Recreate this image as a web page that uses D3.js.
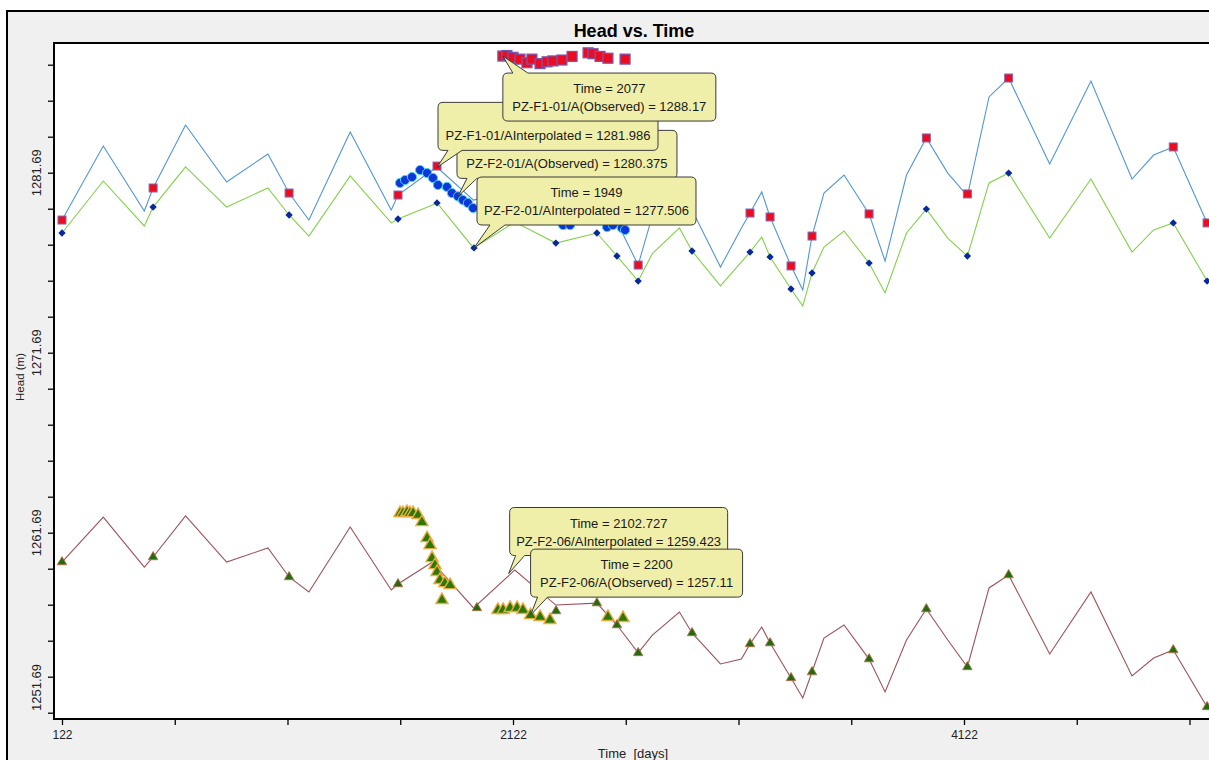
<!DOCTYPE html>
<html><head><meta charset="utf-8">
<script src="https://cdn.jsdelivr.net/npm/d3@7"></script>
<style>
html,body{margin:0;padding:0;background:#fff;}
svg{display:block;font-family:Arial,"Liberation Sans",sans-serif;}
</style></head><body>
<svg id="chart" width="1209" height="760"></svg>
<script>
// ---------------- DATA ----------------
const chartTitle = "Head vs. Time";
const xAxisTitle = "Time  [days]";
const yAxisTitle = "Head (m)";

const xTickValues = [122, 622, 1122, 1622, 2122, 2622, 3122, 3622, 4122, 4622, 5122];
const xTickLabels = ["122", "", "", "", "2122", "", "", "", "4122", "", ""];
const yTickValues = [1251.69, 1253.69, 1255.69, 1257.69, 1259.69, 1261.69, 1263.69, 1265.69, 1267.69,
  1269.69, 1271.69, 1273.69, 1275.69, 1277.69, 1279.69, 1281.69, 1283.69, 1285.69, 1287.69];
const yTickLabeled = [1251.69, 1261.69, 1271.69, 1281.69];

// interpolated (model) series share the time steps
const lineTimes = [122, 305, 487, 526, 670, 852, 1035, 1129, 1217, 1400, 1582, 1612, 1765, 1785, 1947,
  2130, 2312, 2494, 2583, 2677, 2740, 2860, 2916, 3042, 3135, 3173, 3225, 3262, 3355, 3407, 3448, 3501, 3590,
  3701, 3772, 3867, 3955, 4050, 4137, 4233, 4320, 4502, 4685, 4867, 4963, 5050, 5200];
const f1Interp = [1279.06, 1283.17, 1279.56, 1280.84, 1284.34, 1281.17, 1282.73, 1280.56, 1279.06, 1283.95,
  1279.62, 1280.45, 1281.84, 1281.99, 1280.17, 1280.73, 1279.06, 1279.34, 1278.95, 1276.56, 1279.30, 1280.73, 1279.62,
  1276.45, 1278.62, 1279.45, 1280.62, 1279.23, 1276.51, 1275.17, 1278.17, 1280.56, 1281.56, 1279.40, 1276.78,
  1281.56, 1283.62, 1281.67, 1280.40, 1285.90, 1286.95, 1282.17, 1286.78, 1281.34, 1282.67, 1283.12, 1278.90];
const f2Interp = [1278.34, 1281.23, 1278.73, 1279.78, 1282.01, 1279.78, 1280.84, 1279.34, 1278.17, 1281.51,
  1278.90, 1279.12, 1279.90, 1280.01, 1277.51, 1278.95, 1277.78, 1278.34, 1277.06, 1275.67, 1277.20, 1278.62, 1277.34,
  1275.40, 1276.73, 1277.28, 1278.12, 1277.01, 1275.23, 1274.28, 1276.12, 1277.56, 1278.45, 1276.67, 1275.01,
  1278.34, 1279.67, 1278.06, 1277.06, 1281.12, 1281.67, 1278.06, 1281.34, 1277.28, 1278.51, 1278.90, 1275.67];
const f206Interp = [1260.06, 1262.56, 1259.78, 1260.34, 1262.62, 1260.06, 1260.84, 1259.23, 1258.40, 1262.01,
  1258.51, 1258.84, 1260.06, 1259.78, 1257.51, 1259.62, 1257.67, 1257.78, 1256.56, 1255.01, 1256.00, 1257.28, 1256.12,
  1254.40, 1254.67, 1255.51, 1256.45, 1255.56, 1253.62, 1252.51, 1253.95, 1255.84, 1256.56, 1254.67, 1252.84,
  1255.73, 1257.45, 1255.73, 1254.23, 1258.62, 1259.34, 1254.95, 1258.40, 1253.73, 1254.73, 1255.17, 1252.01];

// PZ-F1-01/A observed
const f1ObsT = [122, 526, 1129, 1612, 1785, 2677, 3173, 3262, 3355, 3448, 3701, 3955, 4137, 4320, 5050, 5200];
const f1ObsH = [1279.06, 1280.84, 1280.56, 1280.45, 1282.06, 1276.56, 1279.45, 1279.23, 1276.51, 1278.17,
  1279.40, 1283.62, 1280.51, 1286.95, 1283.12, 1278.90];
const f1ObsDenseT = [2077, 2095, 2122, 2153, 2184, 2206, 2242, 2273, 2299, 2339, 2384, 2455, 2477, 2508, 2543, 2619];
const f1ObsDenseH = [1288.17, 1288.20, 1288.10, 1288.00, 1287.80, 1288.00, 1287.75, 1287.85, 1287.90, 1287.95,
  1288.15, 1288.35, 1288.30, 1288.15, 1288.05, 1288.00];

// PZ-F2-01/A observed
const f2ObsT = [122, 526, 1129, 1612, 1785, 1949, 2312, 2494, 2583, 2677, 2916, 3173, 3262, 3355, 3448, 3701,
  3955, 4137, 4320, 5050, 5200];
const f2ObsH = [1278.34, 1279.78, 1279.34, 1279.12, 1280.01, 1277.51, 1277.78, 1278.34, 1277.06, 1275.67,
  1277.34, 1277.28, 1277.01, 1275.23, 1276.12, 1276.67, 1279.67, 1277.06, 1281.67, 1278.90, 1275.67];
const f2ObsDenseT = [1621, 1643, 1674, 1710, 1741, 1767, 1789, 1829, 1851, 1878, 1900, 1922, 1945,
  2344, 2375, 2539, 2565, 2605, 2619];
const f2ObsDenseH = [1281.12, 1281.28, 1281.45, 1281.84, 1281.67, 1281.40, 1281.01, 1280.90, 1280.56, 1280.375,
  1280.17, 1280.01, 1279.73, 1278.78, 1278.78, 1278.67, 1278.78, 1278.62, 1278.51];

// PZ-F2-06/A observed
const f206ObsT = [122, 526, 1129, 1612, 1962, 2313, 2494, 2583, 2677, 2916, 3173, 3262, 3355, 3448, 3701,
  3955, 4137, 4320, 5050, 5200];
const f206ObsH = [1260.06, 1260.34, 1259.23, 1258.84, 1257.51, 1257.34, 1257.78, 1256.56, 1255.01, 1256.12,
  1255.51, 1255.56, 1253.62, 1253.95, 1254.67, 1257.45, 1254.23, 1259.34, 1255.17, 1252.01];
const f206ObsDenseT = [1621, 1634, 1652, 1665, 1679, 1701, 1718, 1741, 1754, 1763, 1776, 1785, 1798, 1820, 1843,
  1807, 2055, 2078, 2109, 2140, 2166, 2200, 2242, 2286, 2543, 2610];
const f206ObsDenseH = [1262.78, 1262.78, 1262.84, 1262.78, 1262.78, 1262.67, 1262.28, 1261.39, 1261.00, 1260.28,
  1259.89, 1259.51, 1259.06, 1258.89, 1258.78, 1257.95, 1257.40, 1257.40, 1257.51, 1257.51, 1257.40, 1257.11,
  1257.01, 1256.84, 1257.01, 1256.95];

// hover tool-tips (time, value, text lines)
const tipTimes = [1878, 1785, 2077, 1949, 2102.727, 2200];
const tipValues = [1280.375, 1281.986, 1288.17, 1277.506, 1259.423, 1257.11];
const tipLines = [
  ["", "PZ-F2-01/A(Observed) = 1280.375"],
  ["", "PZ-F1-01/AInterpolated = 1281.986"],
  ["Time = 2077", "PZ-F1-01/A(Observed) = 1288.17"],
  ["Time = 1949", "PZ-F2-01/AInterpolated = 1277.506"],
  ["Time = 2102.727", "PZ-F2-06/AInterpolated = 1259.423"],
  ["Time = 2200", "PZ-F2-06/A(Observed) = 1257.11"]
];

// ---------------- LAYOUT ----------------
const W = 1209, H = 760;
const plot = {left: 54, top: 43, right: 1214, bottom: 719};
// tooltip box placement relative to its anchor: [dx, dy, width, height, tailX0, tailX1, tailSide]
const tipLayout = [
  [-1, -66, 220, 48, 10, 20, "bottom"],
  [1, -65, 220, 48, 10, 24, "bottom"],
  [0, 17, 213, 48, 10, 25, "top"],
  [3, -71, 219, 48, 13, 28, "bottom"],
  [1, -66, 218, 48, 6, 15, "bottom"],
  [0, -66, 212, 48, 7, 17, "bottom"]
];

const svg = d3.select("#chart");

// outer panel
svg.append("rect").attr("x", 0).attr("y", 0).attr("width", W).attr("height", H).attr("fill", "#ffffff");
svg.append("rect").attr("x", 7).attr("y", 11).attr("width", 1230).attr("height", 800)
  .attr("fill", "#f0f0f0").attr("stroke", "#000").attr("stroke-width", 2);

// plot area
svg.append("rect").attr("x", plot.left).attr("y", plot.top)
  .attr("width", plot.right - plot.left).attr("height", plot.bottom - plot.top)
  .attr("fill", "#ffffff");

const x = d3.scaleLinear().domain([122, 4122]).range([62, 964]);
const y = d3.scaleLinear().domain([1251.69, 1281.69]).range([712.7, 172.7]);

svg.append("clipPath").attr("id", "clip").append("rect")
  .attr("x", plot.left).attr("y", plot.top)
  .attr("width", plot.right - plot.left).attr("height", plot.bottom - plot.top);

const g = svg.append("g").attr("clip-path", "url(#clip)");

// lines
function drawLine(ts, hs, color) {
  const pts = ts.map((t, i) => [t, hs[i]]);
  g.append("path").datum(pts)
    .attr("fill", "none").attr("stroke", color).attr("stroke-width", 1.1)
    .attr("d", d3.line().x(d => x(d[0])).y(d => y(d[1])));
}
drawLine(lineTimes, f1Interp, "#5196d2");
drawLine(lineTimes, f2Interp, "#82d04a");
drawLine(lineTimes, f206Interp, "#9c525a");

// markers
function pairs(ts, hs) { return ts.map((t, i) => [t, hs[i]]); }

// F2-06 observed: triangles
g.append("g").selectAll("path").data(pairs(f206ObsDenseT, f206ObsDenseH)).join("path")
  .attr("transform", d => `translate(${x(d[0])},${y(d[1])})`)
  .attr("d", d3.symbol().type(d3.symbolTriangle).size(64)())
  .attr("fill", "#287a0c").attr("stroke", "#eeaa3c").attr("stroke-width", 1.4);
g.append("g").selectAll("path").data(pairs(f206ObsT, f206ObsH)).join("path")
  .attr("transform", d => `translate(${x(d[0])},${y(d[1])})`)
  .attr("d", d3.symbol().type(d3.symbolTriangle).size(38)())
  .attr("fill", "#236b0c").attr("stroke", "#a8744a").attr("stroke-width", 1);

// F2-01 observed dense: blue circles with cyan rim
g.append("g").selectAll("circle").data(pairs(f2ObsDenseT, f2ObsDenseH)).join("circle")
  .attr("cx", d => x(d[0])).attr("cy", d => y(d[1])).attr("r", 4.6)
  .attr("fill", "#0f36d8").attr("stroke", "#45d2f0").attr("stroke-width", 1);
// F2-01 observed sparse: small diamonds
g.append("g").selectAll("rect").data(pairs(f2ObsT, f2ObsH)).join("rect")
  .attr("x", -2.6).attr("y", -2.6).attr("width", 5.2).attr("height", 5.2)
  .attr("transform", d => `translate(${x(d[0])},${y(d[1])}) rotate(45)`)
  .attr("fill", "#07299a");

// F1-01 observed: red squares
g.append("g").selectAll("rect").data(pairs(f1ObsT, f1ObsH)).join("rect")
  .attr("x", d => x(d[0]) - 4).attr("y", d => y(d[1]) - 4).attr("width", 8).attr("height", 8)
  .attr("fill", "#ec0c22").attr("stroke", "#8468b0").attr("stroke-width", 1);
g.append("g").selectAll("rect").data(pairs(f1ObsDenseT, f1ObsDenseH)).join("rect")
  .attr("x", d => x(d[0]) - 5).attr("y", d => y(d[1]) - 5).attr("width", 10).attr("height", 10)
  .attr("fill", "#ec0c22").attr("stroke", "#7a58b0").attr("stroke-width", 1.2);

// plot border
svg.append("rect").attr("x", plot.left).attr("y", plot.top)
  .attr("width", plot.right - plot.left).attr("height", plot.bottom - plot.top)
  .attr("fill", "none").attr("stroke", "#000").attr("stroke-width", 2);

// axes
const xAxis = d3.axisBottom(x).tickValues(xTickValues).tickSize(6).tickPadding(5)
  .tickFormat((d, i) => xTickLabels[i]);
const gx = svg.append("g").attr("transform", `translate(0,${plot.bottom})`).call(xAxis);
gx.select(".domain").remove();
gx.selectAll(".tick line").attr("stroke", "#000").attr("stroke-width", 1.3);
gx.selectAll(".tick text").attr("font-size", 12).attr("fill", "#222").attr("font-family", "Arial, 'Liberation Sans', sans-serif");

const yAxis = d3.axisLeft(y).tickValues(yTickValues).tickSize(6).tickFormat("");
const gy = svg.append("g").attr("transform", `translate(${plot.left},0)`).call(yAxis);
gy.select(".domain").remove();
gy.selectAll(".tick line").attr("stroke", "#000").attr("stroke-width", 1.3);
gy.selectAll(".tick text").remove();
svg.append("g").selectAll("text").data(yTickLabeled).join("text")
  .attr("transform", d => {
    const yy = y(d);
    return yy > plot.bottom - 25 ? `translate(36,${plot.bottom - 8}) rotate(-90)` : `translate(36,${yy}) rotate(-90)`;
  })
  .attr("text-anchor", d => y(d) > plot.bottom - 25 ? "start" : "middle")
  .attr("dy", "0.35em")
  .attr("font-size", 13).attr("fill", "#222")
  .text(d => d.toFixed(2));

// titles
svg.append("text").attr("x", (plot.left + plot.right) / 2).attr("y", 37)
  .attr("text-anchor", "middle").attr("font-size", 18).attr("font-weight", "bold").attr("fill", "#000")
  .text(chartTitle);
svg.append("text").attr("x", 633).attr("y", 758)
  .attr("text-anchor", "middle").attr("font-size", 13).attr("fill", "#222")
  .attr("xml:space", "preserve").style("white-space", "pre")
  .text(xAxisTitle);
svg.append("text").attr("transform", `translate(20,${(plot.top + plot.bottom) / 2 - 4}) rotate(-90)`)
  .attr("text-anchor", "middle").attr("dy", "0.35em").attr("font-size", 11.5).attr("fill", "#222")
  .text(yAxisTitle);

// tooltips
function tipPath(ax, ay, L) {
  const [dx, dy, w, h, t0, t1, side] = L;
  const x0 = ax + dx, y0 = ay + dy, x1 = x0 + w, y1 = y0 + h, r = 5;
  if (side === "bottom") {
    return `M${x0 + r},${y0} H${x1 - r} Q${x1},${y0} ${x1},${y0 + r} V${y1 - r} Q${x1},${y1} ${x1 - r},${y1}` +
      ` H${x0 + t1} L${ax},${ay} L${x0 + t0},${y1} H${x0 + r} Q${x0},${y1} ${x0},${y1 - r} V${y0 + r} Q${x0},${y0} ${x0 + r},${y0} Z`;
  }
  return `M${x0 + r},${y0} H${x0 + t0} L${ax},${ay} L${x0 + t1},${y0} H${x1 - r} Q${x1},${y0} ${x1},${y0 + r} V${y1 - r}` +
    ` Q${x1},${y1} ${x1 - r},${y1} H${x0 + r} Q${x0},${y1} ${x0},${y1 - r} V${y0 + r} Q${x0},${y0} ${x0 + r},${y0} Z`;
}
const tips = svg.append("g");
tipTimes.forEach((t, i) => {
  const ax = x(t), ay = y(tipValues[i]);
  const L = tipLayout[i];
  const tg = tips.append("g");
  tg.append("path").attr("d", tipPath(ax, ay, L))
    .attr("fill", "#efefa9").attr("stroke", "#3a3a3a").attr("stroke-width", 1);
  const cx = ax + L[0] + L[2] / 2, top = ay + L[1];
  tipLines[i].forEach((s, j) => {
    if (!s) return;
    tg.append("text").attr("x", cx).attr("y", top + 20 + j * 18)
      .attr("text-anchor", "middle").attr("font-size", 13).attr("fill", "#1a1a1a").text(s);
  });
});
</script>
</body></html>
